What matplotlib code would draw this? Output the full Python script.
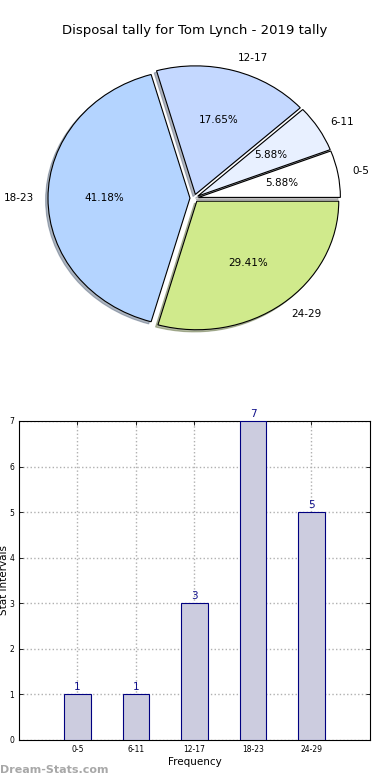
import numpy as np
import matplotlib
matplotlib.use('Agg')
import matplotlib.pyplot as plt

plt.rcParams['font.family'] = ['DejaVu Sans']

## data
intervals = ['0-5', '6-11', '12-17', '18-23', '24-29']
counts = [1, 1, 3, 7, 5]
pie_colors = ['#ffffff', '#e8f0ff', '#c4d8ff', '#b4d4ff', '#d0ea8c']
title = 'Disposal tally for Tom Lynch - 2019 tally'

fig = plt.figure(figsize=(3.9, 7.8), dpi=100)

## pie on top
ax1 = fig.add_axes([0.043, 0.540, 0.910, 0.412])
ax1.pie(counts, labels=intervals, colors=pie_colors, autopct='%.2f%%',
        explode=[0.03] * len(counts),
        shadow={'ox': -0.012, 'oy': -0.012, 'shade': 0.5},
        startangle=0,
        wedgeprops={'edgecolor': 'black', 'linewidth': 0.8},
        textprops={'fontsize': 7.5})
ax1.set_aspect('auto')
fig.text(0.5, 0.961, title, ha='center', va='center', fontsize=9.5)

## bar chart below
ax2 = fig.add_axes([0.0487, 0.0513, 0.9, 0.409])
x = np.arange(len(intervals))
bars = ax2.bar(x, counts, width=0.45, color='#ccccdf', edgecolor='#000080',
               linewidth=0.8, zorder=3)
for xi, c in zip(x, counts):
    ax2.text(xi, c + 0.05, str(c), ha='center', va='bottom',
             color='#10108a', fontsize=7.5, zorder=4)
ax2.set_xlim(-1, 5)
ax2.set_ylim(0, 7)
ax2.set_xticks(x)
ax2.set_xticklabels(intervals, fontsize=5.5)
ax2.set_yticks(range(8))
ax2.tick_params(axis='y', labelsize=5.5)
ax2.tick_params(direction='in', right=True, top=True, length=3, width=0.6)
ax2.grid(True, linestyle=':', color='#b0b0b0', linewidth=1, zorder=0)
ax2.set_axisbelow(True)
ax2.set_xlabel('Frequency', fontsize=7.5, labelpad=2)
ax2.set_ylabel('Stat Intervals', fontsize=7.5, labelpad=0)

fig.text(0.0, 0.013, 'Dream-Stats.com', fontsize=8, color='#a8a8a8',
         fontweight='bold', ha='left', va='center')

fig.savefig('out.png', dpi=100)
